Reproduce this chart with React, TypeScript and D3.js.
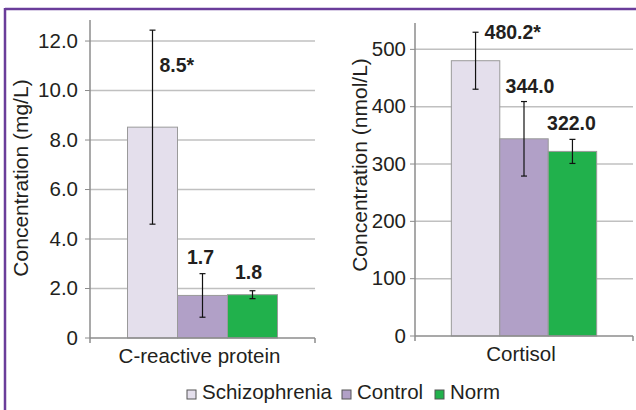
import React from "react";
import * as d3 from "d3";

const seriesNames = ["Schizophrenia", "Control", "Norm"];
const seriesColors = ["#e4dfec", "#b1a0c7", "#21b14c"];

const crpCategory = ["C-reactive protein"];
const crpValues = [8.52, 1.72, 1.75];
const crpErrors = [3.92, 0.88, 0.16];
const crpLabels = ["8.5*", "1.7", "1.8"];
const crpTicks = [0, 2, 4, 6, 8, 10, 12];

const cortCategory = ["Cortisol"];
const cortValues = [480.2, 344.0, 322.0];
const cortErrors = [49.7, 65, 21];
const cortLabels = ["480.2*", "344.0", "322.0"];
const cortTicks = [0, 100, 200, 300, 400, 500];

const FONT = "'Liberation Sans', Arial, Helvetica, sans-serif";
const TXT = "#231f20";

type PanelProps = {
  category: string[];
  values: number[];
  errors: number[];
  labels: string[];
  ticks: number[];
  tickFmt: (v: number) => string;
  yMax: number;
  x0: number;
  x1: number;
  yTop: number;
  yBottom: number;
  title: string;
  titleX: number;
  titleY: number;
  tickGap: number;
  labelOffsets: { dx: number; dy: number; anchor: string; fromCap: boolean }[];
};

function Panel(p: PanelProps) {
  const y = d3.scaleLinear().domain([0, p.yMax]).range([p.yBottom, p.yTop]);
  const xc = d3.scaleBand().domain(p.category).range([p.x0, p.x1]).paddingOuter(0.25).paddingInner(0);
  const xs = d3.scaleBand().domain(seriesNames).range([0, xc.bandwidth()]).padding(0);
  const cat = p.category[0];
  const gx = xc(cat) as number;
  return (
    <g>
      {p.ticks.filter((t) => t > 0).map((t) => (
        <line key={"g" + t} x1={p.x0} x2={p.x1} y1={y(t)} y2={y(t)} stroke="#c0c0c0" strokeWidth={1.5} />
      ))}
      {p.ticks.map((t) => (
        <g key={"t" + t}>
          <line x1={p.x0 - 5} x2={p.x0} y1={y(t)} y2={y(t)} stroke="#8c8c8c" strokeWidth={1} />
          <text x={p.x0 - p.tickGap} y={y(t) + 6.5} textAnchor="end" fontSize={20.5} fill={TXT} fontFamily={FONT}>
            {p.tickFmt(t)}
          </text>
        </g>
      ))}
      {seriesNames.map((s, i) => {
        const bx = gx + (xs(s) as number);
        const bw = xs.bandwidth();
        return (
          <rect key={"b" + s} x={bx} y={y(p.values[i])} width={bw} height={p.yBottom - y(p.values[i])}
            fill={seriesColors[i]} stroke="#9a9a9a" strokeWidth={1} />
        );
      })}
      <line x1={p.x0} x2={p.x0} y1={p.yTop} y2={p.yBottom} stroke="#8c8c8c" strokeWidth={1.5} />
      <line x1={p.x0} x2={p.x1} y1={p.yBottom} y2={p.yBottom} stroke="#8c8c8c" strokeWidth={1.5} />
      <line x1={p.x0} x2={p.x0} y1={p.yBottom} y2={p.yBottom + 5} stroke="#8c8c8c" strokeWidth={1.5} />
      <line x1={p.x1} x2={p.x1} y1={p.yBottom} y2={p.yBottom + 5} stroke="#8c8c8c" strokeWidth={1.5} />
      {seriesNames.map((s, i) => {
        const cx = gx + (xs(s) as number) + xs.bandwidth() / 2;
        const hi = y(p.values[i] + p.errors[i]);
        const lo = y(p.values[i] - p.errors[i]);
        return (
          <g key={"e" + s} stroke="#111" strokeWidth={1.2}>
            <line x1={cx} x2={cx} y1={hi} y2={lo} />
            <line x1={cx - 3} x2={cx + 3} y1={hi} y2={hi} />
            <line x1={cx - 3} x2={cx + 3} y1={lo} y2={lo} />
          </g>
        );
      })}
      {seriesNames.map((s, i) => {
        const cx = gx + (xs(s) as number) + xs.bandwidth() / 2;
        const o = p.labelOffsets[i];
        const base = o.fromCap ? y(p.values[i] + p.errors[i]) : y(p.values[i]);
        return (
          <text key={"l" + s} x={cx + o.dx} y={base + o.dy} textAnchor={o.anchor as any}
            fontSize={19.5} fontWeight="bold" fill={TXT} fontFamily={FONT}>
            {p.labels[i]}
          </text>
        );
      })}
      <text x={(p.x0 + p.x1) / 2 - 3} y={p.yBottom + 25} textAnchor="middle" fontSize={20.5} fill={TXT} fontFamily={FONT}>
        {cat}
      </text>
      <text transform={`translate(${p.titleX},${p.titleY}) rotate(-90)`} textAnchor="middle" fontSize={21}
        fill={TXT} fontFamily={FONT}>
        {p.title}
      </text>
    </g>
  );
}

const legendX = [187, 342, 435];

export default function App() {
  return (
    <svg width={636} height={410} style={{ position: "absolute", left: 0, top: 0, background: "#fff" }}>
      <rect x={0} y={0} width={636} height={410} fill="#fff" />
      <line x1={5} x2={636} y1={9} y2={9} stroke="#6a3d9a" strokeWidth={2.5} />
      <line x1={5} x2={5} y1={8} y2={410} stroke="#6a3d9a" strokeWidth={2.5} />
      <Panel
        category={crpCategory}
        values={crpValues}
        errors={crpErrors}
        labels={crpLabels}
        ticks={crpTicks}
        tickFmt={(v) => (v === 0 ? "0" : d3.format(".1f")(v))}
        yMax={12.85}
        x0={90}
        x1={315}
        yTop={20}
        yBottom={338}
        title="Concentration (mg/L)"
        titleX={28}
        titleY={178}
        tickGap={12}
        labelOffsets={[
          { dx: 7, dy: 42, anchor: "start", fromCap: true },
          { dx: -2, dy: -10, anchor: "middle", fromCap: true },
          { dx: -4, dy: -12, anchor: "middle", fromCap: true },
        ]}
      />
      <Panel
        category={cortCategory}
        values={cortValues}
        errors={cortErrors}
        labels={cortLabels}
        ticks={cortTicks}
        tickFmt={(v) => String(v)}
        yMax={546}
        x0={415}
        x1={633}
        yTop={23}
        yBottom={336}
        title="Concentration (nmol/L)"
        titleX={367}
        titleY={165}
        tickGap={9}
        labelOffsets={[
          { dx: 9, dy: 7, anchor: "start", fromCap: true },
          { dx: 6, dy: -9, anchor: "middle", fromCap: true },
          { dx: -1, dy: -9, anchor: "middle", fromCap: true },
        ]}
      />
      {seriesNames.map((s, i) => (
        <g key={"lg" + s}>
          <rect x={legendX[i]} y={390} width={9} height={9} fill={seriesColors[i]} stroke="#555" strokeWidth={1} />
          <text x={legendX[i] + 15} y={399} fontSize={20.5} fill={TXT} fontFamily={FONT}>
            {s}
          </text>
        </g>
      ))}
    </svg>
  );
}
